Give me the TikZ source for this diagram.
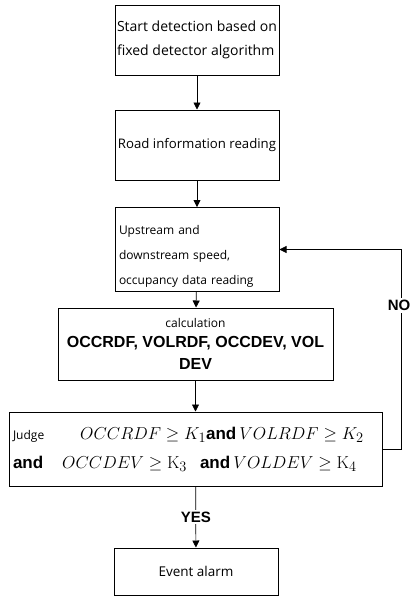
\documentclass[tikz,border=0pt]{standalone}
\usepackage{amsmath}
\usepackage{amssymb}
\usepackage{xcolor}
\usepackage[no-math]{fontspec}
\setmainfont{Open Sans}
\newfontfamily\boldsans{Liberation Sans}
\usepackage{tikz}
\usetikzlibrary{calc}
\usetikzlibrary{arrows.meta}
\tikzstyle{stepbox} = [draw=black, fill=white, line width=1pt,
rectangle, inner sep=4pt, font=\fontsize{12}{24}\selectfont]
\tikzstyle{flowline} = [draw=black, line width=0.7pt,
-{Triangle[length=7pt,width=7pt]}]
\tikzstyle{flowlabel} = [fill=white, inner sep=2pt, font=\boldsans\bfseries\fontsize{15}{18}\selectfont]
\newcommand{\andword}{{\boldsans\bfseries\fontsize{17}{20}\selectfont and}}

\begin{document}
\begin{tikzpicture}[x=1pt,y=-1pt]
        \useasboundingbox (0,0) rectangle (411,597);
        \node [stepbox, minimum width=164pt, minimum height=70pt, inner xsep=2pt, align=left,
            font=\fontsize{14}{24}\selectfont] (start) at (197,40)
            {Start detection based on\\fixed detector algorithm};
        \node [stepbox, minimum width=164pt, minimum height=70pt, inner xsep=0pt,
            font=\fontsize{13.2}{24}\selectfont] (road) at (197,145)
            {Road information reading};
        \node [stepbox, minimum width=164pt, minimum height=71pt, text width=156pt, align=left,
            font=\fontsize{12}{25}\selectfont] (upstream) at (197,249.5)
            {\rule{0pt}{23pt}Upstream and\\downstream speed,\\occupancy data reading};
        \node [stepbox, minimum width=275pt, minimum height=72pt, align=center,
            font=\boldsans\bfseries\fontsize{16}{22}\selectfont] (calc) at (195.5,344)
            {{\normalfont\fontsize{12}{14}\selectfont calculation}\\[-2pt]
             OCCRDF, VOLRDF, OCCDEV, VOL\\DEV};
        \node [stepbox, minimum width=373pt, minimum height=74pt, text width=365pt, align=left,
            font=\fontsize{19}{29}\selectfont] (judge) at (195.5,449)
            {{\fontsize{12}{14}\selectfont Judge}\hspace{36pt}$OCCRDF \geq K_1$\andword\hspace{3pt}$VOLRDF \geq K_2$\\
             \andword\hspace{19pt}$OCCDEV \geq \mathrm{K}_3$\hspace{13pt}\andword\,$VOLDEV \geq \mathrm{K}_4$};
        \node [stepbox, minimum width=164pt, minimum height=47pt,
            font=\fontsize{13.5}{16}\selectfont] (alarm) at (196,571.5)
            {Event alarm};
        \coordinate (nocorner) at (401,449);
        \draw [flowline] (start) -- (road);
        \draw [flowline] (road) -- (upstream);
        \draw [flowline] (upstream) -- (calc);
        \draw [flowline] (calc) -- (judge);
        \draw [flowline] (judge) -- node[flowlabel, pos=0.5] {YES} (alarm);
        \draw [flowline] (judge.east) -- (nocorner) -- node[flowlabel, pos=0.72, xshift=-2pt] {NO} (nocorner |- upstream.east) -- (upstream.east);
    \end{tikzpicture}
\end{document}
